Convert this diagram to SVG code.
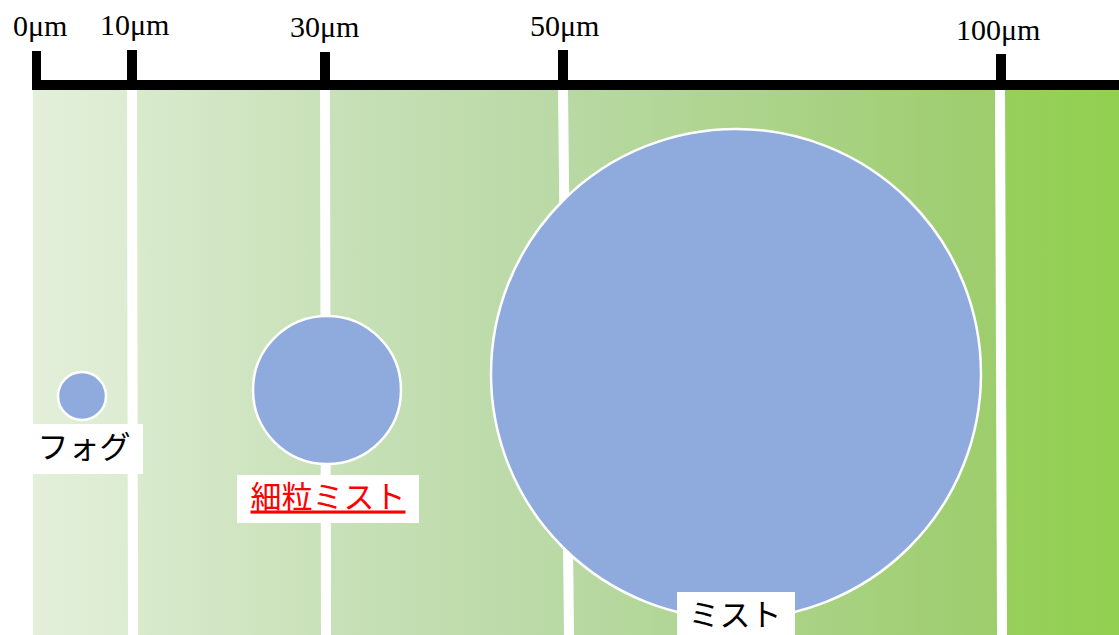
<svg xmlns="http://www.w3.org/2000/svg" width="1119" height="635" viewBox="0 0 1119 635">
<defs>
<linearGradient id="bg" gradientUnits="userSpaceOnUse" x1="33" y1="0" x2="1119" y2="0">
<stop offset="0" stop-color="#e2efda"/>
<stop offset="0.087" stop-color="#dcecd1"/>
<stop offset="0.096" stop-color="#d9eacd"/>
<stop offset="0.264" stop-color="#c9e1b9"/>
<stop offset="0.485" stop-color="#b9d9a5"/>
<stop offset="0.886" stop-color="#9dcd6c"/>
<stop offset="0.895" stop-color="#97cf5c"/>
<stop offset="1" stop-color="#92d050"/>
</linearGradient>
<style>
.axis{fill:#000}
.lbl{font-family:"Liberation Serif","Times New Roman",serif;font-size:30px;fill:#000}
.gap{stroke:#fff;stroke-width:10}
.drop{fill:#8faadc;stroke:#fff;stroke-width:2.5}
.box{fill:#fff}
.jp{font-family:"Noto Sans CJK JP","Noto Sans",sans-serif;font-size:31px;fill:#000;text-anchor:middle;dominant-baseline:central}
</style>
</defs>
<rect x="0" y="0" width="1119" height="635" fill="#fff"/>
<rect x="33" y="90" width="1086" height="545" fill="url(#bg)"/>
<g id="connectors">
<line class="gap" x1="132" y1="90" x2="133" y2="635"/>
<line class="gap" x1="325" y1="90" x2="326" y2="635"/>
<line class="gap" x1="563" y1="90" x2="569" y2="635"/>
<line class="gap" x1="1000" y1="90" x2="1002" y2="635"/>
</g>
<g id="axis">
<rect class="axis" x="33" y="80" width="1086" height="10"/>
<rect class="axis" x="32" y="51" width="9" height="39"/>
<rect class="axis" x="127" y="50" width="10" height="40"/>
<rect class="axis" x="320" y="52" width="10" height="38"/>
<rect class="axis" x="558" y="50" width="10" height="40"/>
<rect class="axis" x="996" y="54" width="10" height="36"/>
<text class="lbl" x="13" y="36">0μm</text>
<text class="lbl" x="100" y="35">10μm</text>
<text class="lbl" x="290" y="37">30μm</text>
<text class="lbl" x="530" y="36">50μm</text>
<text class="lbl" x="956" y="40">100μm</text>
</g>
<g id="fog">
<circle class="drop" cx="82" cy="396" r="24"/>
<rect class="box" x="25" y="424" width="118" height="50"/>
<text class="jp" x="84" y="444">フォグ</text>
</g>
<g id="fine-mist">
<circle class="drop" cx="327" cy="390" r="74"/>
<rect class="box" x="237" y="475" width="182" height="48"/>
<text class="jp" x="328" y="494" style="fill:#ff0000;text-decoration:underline">細粒ミスト</text>
</g>
<g id="mist">
<circle class="drop" cx="736" cy="374" r="245"/>
<rect class="box" x="677" y="592" width="118" height="50"/>
<text class="jp" x="735" y="612">ミスト</text>
</g>
</svg>
